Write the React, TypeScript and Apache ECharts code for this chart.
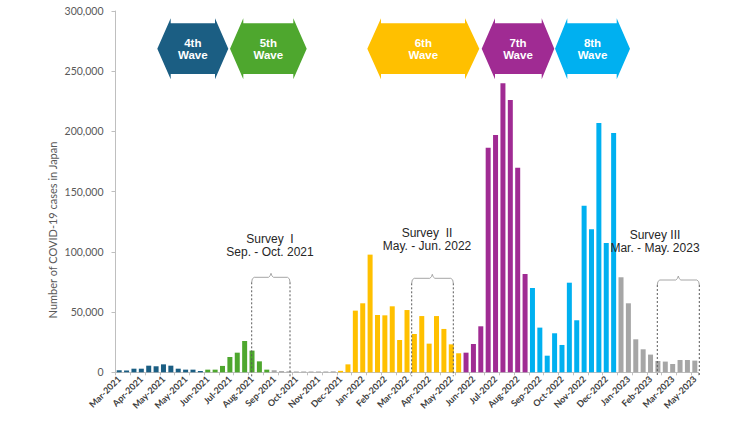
import React, { useEffect, useRef } from "react";
import * as echarts from "echarts";

// Tick labels shown every third bar (one bar per ~10 days)
const tickLabels = [
  "Mar-2021", "Apr-2021", "May-2021", "May-2021", "Jun-2021", "Jul-2021", "Aug-2021",
  "Sep-2021", "Oct-2021", "Nov-2021", "Dec-2021", "Jan-2022", "Feb-2022", "Mar-2022",
  "Apr-2022", "May-2022", "Jun-2022", "Jul-2022", "Aug-2022", "Sep-2022", "Oct-2022",
  "Nov-2022", "Dec-2022", "Jan-2023", "Feb-2023", "Mar-2023", "May-2023",
];

// Number of COVID-19 cases in Japan, per bar
const cases = [
  1700, 1400, 3000, 3000, 5500, 5000, 6600, 5500, 3000, 2200,
  2200, 1100, 2200, 2200, 5300, 12700, 16300, 26000, 18000, 9100,
  2200, 1700, 1000, 800, 700, 700, 700, 700, 700, 800,
  1200, 6600, 51200, 57300, 97700, 47600, 47300, 54800, 26800, 51700,
  31800, 46700, 23800, 46700, 36000, 23200, 15800, 16300, 23500, 38200,
  186500, 197000, 240000, 226000, 169900, 81600, 70000, 37100, 13800, 32400,
  22700, 74400, 43200, 138300, 118700, 207000, 107300, 198600, 78900, 57300,
  27400, 19100, 14700, 9400, 8900, 6900, 10200, 10200, 9700,
];

// Period boundaries (first bar index of each period) and colours
const periodStarts = [0, 12, 21, 30, 47, 56, 68];
const periodColors = ["#1B5E83", "#4EA72E", "#A6A6A6", "#FFC000", "#A02B93", "#00B0F0", "#A6A6A6"];

const waveTop = ["4th", "5th", "6th", "7th", "8th"];
const waveBottom = ["Wave", "Wave", "Wave", "Wave", "Wave"];
const waveColors = ["#1B5E83", "#4EA72E", "#FFC000", "#A02B93", "#00B0F0"];

const surveyTitles = ["Survey  I", "Survey  II", "Survey III"];
const surveyPeriods = ["Sep. - Oct. 2021", "May. - Jun. 2022", "Mar. - May. 2023"];

const yTicks = [0, 50000, 100000, 150000, 200000, 250000, 300000];

const categories = cases.map((_, i) =>
  i % 3 === 0 ? tickLabels[i / 3] : `${tickLabels[Math.floor(i / 3)]} (${(i % 3) + 1})`
);

function colorOf(i: number) {
  let c = periodColors[0];
  for (let k = 0; k < periodStarts.length; k++) if (i >= periodStarts[k]) c = periodColors[k];
  return c;
}

// Wave banner geometry (pixels): left tip, left ear, right ear, right tip
const waveX = [
  [157.3, 170.7, 215, 228.3],
  [230, 243.3, 293.3, 306.7],
  [367.3, 381, 465, 479.3],
  [481.7, 495, 541.7, 554.3],
  [555, 567.3, 616.7, 630],
];
const surveyGeom = [
  { l: 251.7, r: 290, top: 277.3, peak: 271, tx: 270, ty: 238.5 },
  { l: 411.7, r: 453.3, top: 278.3, peak: 432.3, tx: 427, ty: 232.5 },
  { l: 657.3, r: 699.3, top: 280, peak: 678.3, tx: 655, ty: 234.5 },
];

export default function App() {
  const ref = useRef<HTMLDivElement>(null);
  useEffect(() => {
    if (!ref.current) return;
    const chart = echarts.init(ref.current, undefined, { renderer: "svg" });
    const baseY = 372.3;
    const graphics: any[] = [];

    waveX.forEach((xs, k) => {
      const [a, b, c, d] = xs;
      const yE1 = 18.3, yB1 = 23.3, yM = 48.7, yB2 = 74, yE2 = 79.3;
      graphics.push({
        type: "polygon",
        shape: {
          points: [
            [a, yM], [b, yE1], [b, yB1], [c, yB1], [c, yE1],
            [d, yM], [c, yE2], [c, yB2], [b, yB2], [b, yE2],
          ],
        },
        style: { fill: waveColors[k] },
        z: 10,
      });
      [waveTop[k], waveBottom[k]].forEach((t, j) => {
        graphics.push({
          type: "text",
          x: (a + d) / 2,
          y: j === 0 ? 42.7 : 54.8,
          style: {
            text: t,
            fill: "#ffffff",
            font: "bold 11.5px 'Liberation Sans', Arial, sans-serif",
            align: "center",
            verticalAlign: "middle",
          },
          z: 11,
        });
      });
    });

    surveyGeom.forEach((g, k) => {
      const t = g.top;
      graphics.push({
        type: "polyline",
        shape: {
          points: [
            [g.l, t + 5], [g.l + 0.6, t + 1.6], [g.l + 2.5, t],
            [g.peak - 2.5, t], [g.peak - 0.8, t - 1.6], [g.peak, t - 4],
            [g.peak + 0.8, t - 1.6], [g.peak + 2.5, t],
            [g.r - 2.5, t], [g.r - 0.6, t + 1.6], [g.r, t + 5],
          ],
        },
        style: { stroke: "#A6A6A6", lineWidth: 1, fill: null },
        z: 10,
      });
      [g.l, g.r].forEach((x) => {
        graphics.push({
          type: "line",
          shape: { x1: x, y1: t + 5, x2: x, y2: baseY + 4 },
          style: { stroke: "#595959", lineWidth: 1, lineDash: [2, 2] },
          z: 10,
        });
      });
      [surveyTitles[k], surveyPeriods[k]].forEach((txt, j) => {
        graphics.push({
          type: "text",
          x: g.tx,
          y: g.ty + j * 13.5,
          style: {
            text: txt,
            fill: "#262626",
            font: "12px 'Liberation Sans', Arial, sans-serif",
            align: "center",
            verticalAlign: "middle",
          },
          z: 12,
        });
      });
    });

    graphics.push({
      type: "text",
      x: 52,
      y: 230,
      rotation: Math.PI / 2,
      style: {
        text: "Number of COVID-19 cases in Japan",
        fill: "#595959",
        font: "11px Lato, sans-serif",
        align: "center",
        verticalAlign: "middle",
      },
    });

    chart.setOption({
      animation: false,
      grid: { left: 115.5, top: 11, width: 583, height: 361.3 },
      xAxis: {
        type: "category",
        data: categories,
        axisLine: { lineStyle: { color: "#BFBFBF" } },
        axisTick: { show: true, interval: 1, length: 3, lineStyle: { color: "#BFBFBF" } },
        axisLabel: {
          interval: 2,
          rotate: 45,
          fontSize: 9,
          fontWeight: "bold",
          fontFamily: "Lato, sans-serif",
          color: "#404040",
          margin: 5,
        },
      },
      yAxis: {
        type: "value",
        min: yTicks[0],
        max: yTicks[yTicks.length - 1],
        interval: yTicks[1] - yTicks[0],
        splitLine: { show: false },
        axisLine: { show: true, lineStyle: { color: "#BFBFBF" } },
        axisTick: { show: true, length: 4, lineStyle: { color: "#BFBFBF" } },
        axisLabel: {
          color: "#595959",
          fontSize: 10.5,
          fontFamily: "Lato, sans-serif",
          margin: 12,
          formatter: (v: number) => v.toLocaleString("en-US"),
        },
      },
      series: [
        {
          type: "bar",
          barWidth: 5,
          data: cases.map((v, i) => ({ value: v, itemStyle: { color: colorOf(i) } })),
        },
      ],
      graphic: graphics,
    });
    return () => chart.dispose();
  }, []);
  return (
    <div
      ref={ref}
      style={{ position: "fixed", left: 0, top: 0, width: 750, height: 422, background: "#fff" }}
    />
  );
}
